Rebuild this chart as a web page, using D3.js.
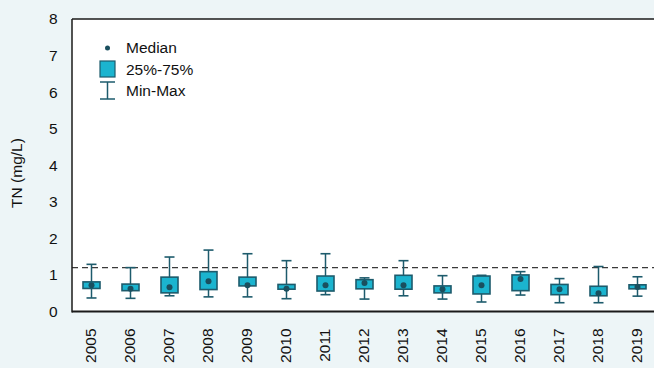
<!DOCTYPE html>
<html>
<head>
<meta charset="utf-8">
<script src="https://cdn.jsdelivr.net/npm/d3@7"></script>
<style>
  html, body { margin: 0; padding: 0; background: #edf5f7; }
  svg { display: block; font-family: "Liberation Sans", Arial, sans-serif; }
</style>
</head>
<body>
<svg id="chart" width="654" height="368"></svg>
<script>
// Annual total nitrogen statistics (mg/L)
const years = ["2005","2006","2007","2008","2009","2010","2011","2012","2013","2014","2015","2016","2017","2018","2019"];
const minVals = [0.37,0.36,0.43,0.40,0.40,0.35,0.46,0.34,0.43,0.34,0.26,0.45,0.24,0.24,0.42];
const q1Vals  = [0.63,0.57,0.51,0.60,0.70,0.61,0.56,0.62,0.61,0.51,0.48,0.57,0.46,0.43,0.62];
const medVals = [0.72,0.62,0.66,0.83,0.72,0.62,0.72,0.78,0.72,0.61,0.72,0.89,0.61,0.50,0.67];
const q3Vals  = [0.81,0.75,0.94,1.09,0.94,0.74,0.97,0.87,0.99,0.70,0.97,1.00,0.74,0.69,0.73];
const maxVals = [1.29,1.20,1.49,1.68,1.58,1.39,1.58,0.92,1.39,0.98,0.99,1.09,0.90,1.23,0.95];
const yTicks = [0,1,2,3,4,5,6,7,8];
const guideline = 1.2;

const boxFill = "#1bb4cf";
const boxStroke = "#1d5b6c";
const dotColor = "#1a4f5e";
const fontSize = 15.5;

const svg = d3.select("#chart");
const mLeft = 72, mTop = 19, mBottom = 311.5, mRight = 657;

const x = d3.scaleBand().domain(years).range([mLeft, mRight]).padding(0);
const y = d3.scaleLinear().domain([0, 8]).range([mBottom, mTop]);

// plot background
svg.append("rect")
  .attr("x", mLeft).attr("y", mTop)
  .attr("width", 700 - mLeft).attr("height", mBottom - mTop)
  .attr("fill", "#ffffff");

// reference line
svg.append("line")
  .attr("x1", mLeft).attr("x2", 700)
  .attr("y1", y(guideline)).attr("y2", y(guideline))
  .attr("stroke", "#3a3a3a").attr("stroke-width", 1.2)
  .attr("stroke-dasharray", "6,4");

const data = years.map((yr, i) => ({
  yr, min: minVals[i], q1: q1Vals[i], med: medVals[i], q3: q3Vals[i], max: maxVals[i]
}));

const g = svg.append("g");
const boxW = 17, capW = 10;

const item = g.selectAll("g.box").data(data).join("g")
  .attr("class", "box")
  .attr("transform", d => `translate(${x(d.yr) + x.bandwidth() / 2},0)`);

item.append("line")
  .attr("x1", 0).attr("x2", 0)
  .attr("y1", d => y(d.min)).attr("y2", d => y(d.max))
  .attr("stroke", boxStroke).attr("stroke-width", 1.5);
item.append("line")
  .attr("x1", -capW / 2).attr("x2", capW / 2)
  .attr("y1", d => y(d.max)).attr("y2", d => y(d.max))
  .attr("stroke", boxStroke).attr("stroke-width", 1.6);
item.append("line")
  .attr("x1", -capW / 2).attr("x2", capW / 2)
  .attr("y1", d => y(d.min)).attr("y2", d => y(d.min))
  .attr("stroke", boxStroke).attr("stroke-width", 1.6);
item.append("rect")
  .attr("x", -boxW / 2).attr("width", boxW)
  .attr("y", d => y(d.q3)).attr("height", d => y(d.q1) - y(d.q3))
  .attr("fill", boxFill).attr("stroke", boxStroke).attr("stroke-width", 1.6);
item.append("circle")
  .attr("cx", 0).attr("cy", d => y(d.med)).attr("r", 3)
  .attr("fill", dotColor);

// axes frame
svg.append("line").attr("x1", mLeft).attr("x2", 700).attr("y1", mTop).attr("y2", mTop)
  .attr("stroke", "#1a1a1a").attr("stroke-width", 1.5);
svg.append("line").attr("x1", mLeft).attr("x2", 700).attr("y1", mBottom).attr("y2", mBottom)
  .attr("stroke", "#1a1a1a").attr("stroke-width", 2);
svg.append("line").attr("x1", mLeft).attr("x2", mLeft).attr("y1", mTop).attr("y2", mBottom + 1)
  .attr("stroke", "#1a1a1a").attr("stroke-width", 1.5);

// y axis
const yAxis = svg.append("g")
  .attr("transform", `translate(${mLeft},0)`)
  .call(d3.axisLeft(y).tickValues(yTicks).tickSize(0).tickPadding(14.5));
yAxis.select(".domain").remove();
yAxis.selectAll("text").attr("font-size", fontSize).attr("fill", "#111")
  .attr("font-family", "Liberation Sans, Arial, sans-serif");

// x axis
const xAxis = svg.append("g")
  .attr("transform", `translate(0,${mBottom})`)
  .call(d3.axisBottom(x).tickSize(0));
xAxis.select(".domain").remove();
xAxis.selectAll("text")
  .attr("font-size", fontSize).attr("fill", "#111")
  .attr("font-family", "Liberation Sans, Arial, sans-serif")
  .attr("text-anchor", "end")
  .attr("dy", null)
  .attr("transform", "translate(4.5,17) rotate(-90)")
  .attr("x", 0).attr("y", 0);

// y axis title
svg.append("text")
  .attr("transform", "translate(22,173) rotate(-90)")
  .attr("text-anchor", "middle")
  .attr("font-size", fontSize).attr("fill", "#111")
  .text("TN (mg/L)");

// legend
const lg = svg.append("g");
lg.append("circle").attr("cx", 107.5).attr("cy", 48).attr("r", 2.5).attr("fill", dotColor);
lg.append("rect").attr("x", 100).attr("y", 61).attr("width", 15).attr("height", 16)
  .attr("fill", boxFill).attr("stroke", boxStroke).attr("stroke-width", 1.2);
lg.append("line").attr("x1", 107.5).attr("x2", 107.5).attr("y1", 82).attr("y2", 99)
  .attr("stroke", boxStroke).attr("stroke-width", 1.5);
lg.append("line").attr("x1", 100).attr("x2", 115).attr("y1", 82).attr("y2", 82)
  .attr("stroke", boxStroke).attr("stroke-width", 1.5);
lg.append("line").attr("x1", 100).attr("x2", 115).attr("y1", 99).attr("y2", 99)
  .attr("stroke", boxStroke).attr("stroke-width", 1.5);
const labels = [["Median", 48], ["25%-75%", 69.5], ["Min-Max", 91]];
lg.selectAll("text.lab").data(labels).join("text")
  .attr("class", "lab")
  .attr("x", 126).attr("y", d => d[1]).attr("dy", "0.35em")
  .attr("font-size", fontSize).attr("fill", "#111")
  .text(d => d[0]);
</script>
</body>
</html>
